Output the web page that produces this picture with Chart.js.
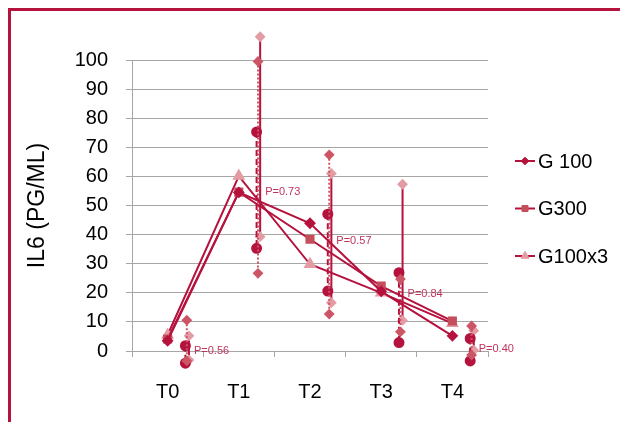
<!DOCTYPE html>
<html>
<head>
<meta charset="utf-8">
<script src="https://cdn.jsdelivr.net/npm/chart.js@4/dist/chart.umd.min.js"></script>
<style>
  html, body { margin: 0; padding: 0; background: #ffffff; overflow: hidden; }
  #wrap { position: relative; width: 620px; height: 422px; }
  #frame { position: absolute; left: 8px; top: 8px; width: 700px; height: 500px;
           border: 3px solid #b5123e; box-sizing: border-box; }
  #c { position: absolute; left: 0; top: 0; }
</style>
</head>
<body>
<div id="wrap">
  <div id="frame"></div>
  <canvas id="c" width="620" height="422"></canvas>
</div>
<script>
// Sampling times
const timePoints = ['T0', 'T1', 'T2', 'T3', 'T4'];

// Mean IL6 (pg/mL) per group
const g100   = [3.5, 54.5, 43.9, 20.5, 5.2];
const g300   = [4.1, 54.6, 38.4, 22.3, 10.3];
const g100x3 = [5.5, 60.1, 29.8, 20.0, 9.5];

// Spread (high / low) per group at each time
const g100High   = [1.8, 75.3, 47.0, 26.9, 4.3];
const g100Low    = [-4.2, 35.3, 20.6, 2.9, -3.4];
const g300High   = [10.6, 99.5, 67.4, 24.7, 8.6];
const g300Low    = [-3.4, 26.7, 12.7, 6.6, -1.4];
const g100x3High = [5.2, 108.0, 61.0, 57.3, 7.0];
const g100x3Low  = [-3.1, 39.3, 16.6, 10.5, 0.3];

// Between-group p values and the level each label sits at
const pValues     = ['0.56', '0.73', '0.57', '0.84', '0.40'];
const pLabelLevel = [0, 54.6, 37.8, 19.6, 0.7];

// Y axis ticks
const yMin = 0, yMax = 100, yStep = 10;

const CRIMSON = '#b5123e';
const SALMON  = '#cc5566';
const PINK    = '#e49ca4';
const GRID    = '#a6a6a6';
const FONT    = '"Liberation Sans", Arial, sans-serif';

// vertical spread segments placed just right of each time point
function spreadPoints(high, low, shift) {
  const pts = [];
  high.forEach((h, i) => {
    pts.push({ x: i + shift, y: h });
    pts.push({ x: i + shift, y: low[i] });
    pts.push({ x: i + shift, y: null });
  });
  return pts;
}

const mainStyle = { borderColor: CRIMSON, borderWidth: 2, tension: 0, clip: false, order: 0 };

const datasets = [
  Object.assign({ label: 'G 100', data: g100, pointStyle: 'rectRot', pointRadius: 4.5,
    pointBackgroundColor: CRIMSON, pointBorderColor: CRIMSON }, mainStyle),
  Object.assign({ label: 'G300', data: g300, pointStyle: 'rect', pointRadius: 5,
    pointBackgroundColor: '#c44f5a', pointBorderColor: '#c44f5a' }, mainStyle),
  Object.assign({ label: 'G100x3', data: g100x3, pointStyle: 'triangle', pointRadius: 5.5,
    pointBackgroundColor: PINK, pointBorderColor: PINK }, mainStyle),
  { label: 'g300 spread', xAxisID: 'xs', data: spreadPoints(g300High, g300Low, 0.27),
    borderColor: SALMON, borderWidth: 2, borderDash: [2, 2], spanGaps: false,
    pointStyle: 'rectRot', pointRadius: 4, pointBackgroundColor: SALMON, pointBorderColor: SALMON,
    clip: false, order: 1 },
  { label: 'g100 spread', xAxisID: 'xs', data: spreadPoints(g100High, g100Low, 0.25),
    borderColor: CRIMSON, borderWidth: 2, borderDash: [6, 3], spanGaps: false,
    pointStyle: 'circle', pointRadius: 4.5, pointBackgroundColor: CRIMSON, pointBorderColor: CRIMSON,
    clip: false, order: 1 },
  { label: 'g100x3 spread', xAxisID: 'xs', data: spreadPoints(g100x3High, g100x3Low, 0.30),
    borderColor: CRIMSON, borderWidth: 2, spanGaps: false,
    pointStyle: 'rectRot', pointRadius: 4, pointBackgroundColor: PINK, pointBorderColor: PINK,
    clip: false, order: 1 }
];

// markers may sit above 100 or below 0: widen the area while datasets are drawn
const overflowArea = {
  id: 'overflowArea',
  beforeDatasetsDraw(chart) {
    const a = chart.chartArea;
    this._saved = { top: a.top, bottom: a.bottom };
    a.top -= 60;
    a.bottom += 60;
  },
  afterDatasetsDraw(chart) {
    const a = chart.chartArea;
    if (this._saved) { a.top = this._saved.top; a.bottom = this._saved.bottom; }
  }
};

// p value labels next to each spread group
const pLabels = {
  id: 'pLabels',
  afterDraw(chart) {
    const ctx = chart.ctx;
    const xs = chart.scales.xs, y = chart.scales.y;
    ctx.save();
    ctx.font = '11px ' + FONT;
    ctx.fillStyle = '#c0345c';
    ctx.textAlign = 'left';
    ctx.textBaseline = 'middle';
    pValues.forEach((p, i) => {
      ctx.fillText('P=' + p, xs.getPixelForValue(i + 0.37), y.getPixelForValue(pLabelLevel[i]));
    });
    ctx.restore();
  }
};

// legend on the right: line sample with marker, then the series name
const sideLegend = {
  id: 'sideLegend',
  afterDraw(chart) {
    const ctx = chart.ctx;
    const x0 = chart.chartArea.right + 27;
    const rowTop = 161, rowGap = 47.5;
    ctx.save();
    for (let i = 0; i < 3; i++) {
      const ds = chart.data.datasets[i];
      const yy = rowTop + i * rowGap;
      ctx.strokeStyle = ds.borderColor;
      ctx.lineWidth = 2;
      ctx.beginPath();
      ctx.moveTo(x0, yy);
      ctx.lineTo(x0 + 20, yy);
      ctx.stroke();
      ctx.fillStyle = ds.pointBackgroundColor;
      ctx.strokeStyle = ds.pointBorderColor;
      ctx.lineWidth = 1;
      Chart.helpers.drawPoint(ctx, {
        pointStyle: ds.pointStyle, radius: ds.pointRadius * 0.85, rotation: 0,
        borderWidth: 1
      }, x0 + 10, yy);
      ctx.fillStyle = '#000000';
      ctx.font = '20px ' + FONT;
      ctx.textAlign = 'left';
      ctx.textBaseline = 'middle';
      ctx.fillText(ds.label, x0 + 23, yy + 1);
    }
    ctx.restore();
  }
};

new Chart(document.getElementById('c'), {
  type: 'line',
  data: { labels: timePoints, datasets },
  plugins: [overflowArea, pLabels, sideLegend],
  options: {
    responsive: false,
    animation: false,
    layout: { padding: { top: 60, right: 132, bottom: 0, left: 0 } },
    plugins: { legend: { display: false }, tooltip: { enabled: false } },
    scales: {
      x: {
        type: 'category',
        offset: true,
        grid: { offset: true, drawOnChartArea: false, tickLength: 6, color: GRID },
        border: { display: true, color: GRID },
        ticks: { color: '#000000', font: { family: FONT, size: 20 }, padding: 23 },
        afterFit(s) { s.height = 71; }
      },
      xs: {
        type: 'linear', display: false, min: -0.5, max: 4.5
      },
      y: {
        min: yMin, max: yMax,
        grid: { color: GRID, tickLength: 6 },
        border: { display: true, color: GRID },
        ticks: { stepSize: yStep, color: '#000000', font: { family: FONT, size: 20 }, padding: 18 },
        title: { display: true, text: 'IL6 (PG/ML)', color: '#000000',
                 font: { family: FONT, size: 23 }, padding: { top: 24, bottom: 0 } },
        afterFit(s) { s.width = 132; }
      }
    }
  }
});
</script>
</body>
</html>
